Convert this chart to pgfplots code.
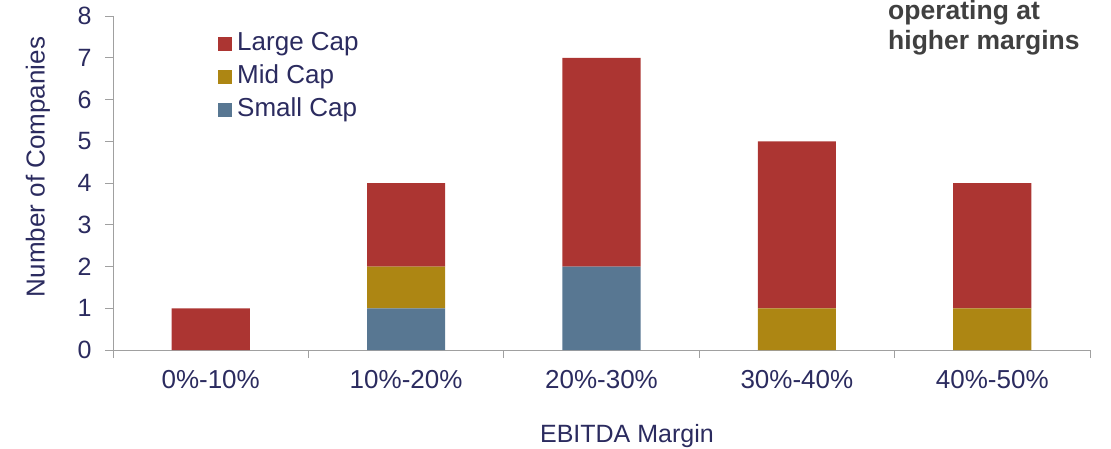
\documentclass[border=0pt]{standalone}
\usepackage{fontspec}
\setmainfont{Liberation Sans}
\usepackage{pgfplots}
\pgfplotsset{compat=1.18}
\definecolor{lc}{HTML}{AC3532}
\definecolor{mc}{HTML}{AD8613}
\definecolor{sc}{HTML}{587792}
\definecolor{txt}{HTML}{2B2B5F}
\definecolor{axc}{HTML}{A0A0A0}
\definecolor{ann}{HTML}{404040}
\begin{document}
\begin{tikzpicture}[x=1pt,y=1pt]
\begin{axis}[
  at={(113pt,98pt)}, anchor=south west,
  scale only axis, width=977pt, height=334pt,
  ybar stacked, bar width=0.4,
  xmin=-0.5, xmax=4.5, ymin=0, ymax=8,
  axis lines=left,
  axis line style={axc, line width=1pt, -},
  tick style={axc, line width=1pt},
  tick align=outside,
  major tick length=8pt,
  /pgf/number format/assume math mode=true,
  font=\fontsize{26}{31}\selectfont,
  ticklabel style={text=txt, font=\fontsize{26}{31}\selectfont},
  ytick={0,1,...,8},
  yticklabel style={xshift=-10pt, font=\fontsize{25}{30}\selectfont},
  xtick={-0.5,0.5,1.5,2.5,3.5,4.5},
  xticklabels={},
  extra x ticks={0,1,2,3,4},
  extra x tick labels={0\%-10\%,10\%-20\%,20\%-30\%,30\%-40\%,40\%-50\%},
  extra x tick style={major tick length=0pt, xticklabel style={yshift=-17pt}},
  xlabel={EBITDA Margin},
  xlabel style={at={(axis description cs:0.526,0)}, anchor=center, yshift=-86pt, text=txt, font=\fontsize{25}{30}\selectfont},
  ylabel={Number of Companies},
  ylabel style={at={(axis description cs:-0.0768,0.548)}, anchor=center, rotate=0, text=txt},
  legend style={draw=none, fill=none, inner sep=0pt,
    at={(axis description cs:0.1075,0.9656)}, anchor=north west,
    nodes={anchor=west, text=txt, text height=18pt, text depth=5pt, inner sep=5pt},
    row sep=0pt, font=\fontsize{26}{31}\selectfont},
  reverse legend,
]
\addplot[fill=sc, draw=none, legend image code/.code={\fill[sc] (0pt,-7pt) rectangle (14pt,7pt);}]
  coordinates {(0,0) (1,1) (2,2) (3,0) (4,0)};
\addlegendentry{Small Cap}
\addplot[fill=mc, draw=none, legend image code/.code={\fill[mc] (0pt,-7pt) rectangle (14pt,7pt);}]
  coordinates {(0,0) (1,1) (2,0) (3,1) (4,1)};
\addlegendentry{Mid Cap}
\addplot[fill=lc, draw=none, legend image code/.code={\fill[lc] (0pt,-7pt) rectangle (14pt,7pt);}]
  coordinates {(0,1) (1,2) (2,5) (3,4) (4,3)};
\addlegendentry{Large Cap}
\end{axis}
\node[anchor=base west, inner sep=0pt, text=ann, font=\fontsize{26.5}{31}\selectfont\bfseries] at (888pt,428pt) {operating at};
\node[anchor=base west, inner sep=0pt, text=ann, font=\fontsize{26.5}{31}\selectfont\bfseries] at (888pt,398pt) {higher margins};
\pgfresetboundingbox
\path[use as bounding box] (0pt,0pt) rectangle (1111pt,448pt);
\end{tikzpicture}
\end{document}
